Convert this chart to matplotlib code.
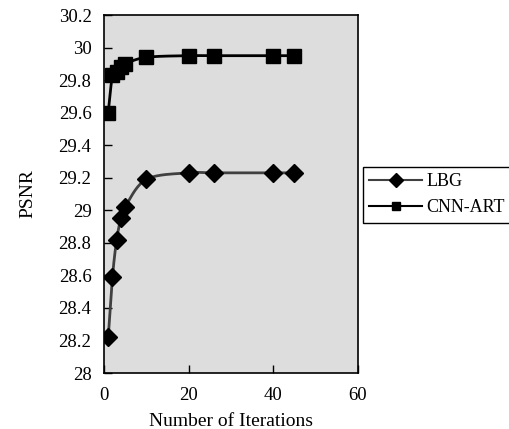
import numpy as np
import matplotlib.pyplot as plt

plt.rcParams['font.family'] = ['Liberation Serif', 'DejaVu Serif']

# donnees
iters = [1, 2, 3, 4, 5, 10, 20, 26, 40, 45]
psnr_lbg = [28.22, 28.59, 28.82, 28.95, 29.02, 29.19, 29.23, 29.23, 29.23, 29.23]
psnr_cnn = [29.60, 29.83, 29.85, 29.88, 29.90, 29.94, 29.95, 29.95, 29.95, 29.95]


def lisse(x, y, n=20):
    """courbe lissee type Excel (Catmull-Rom) pour le trace seulement"""
    x = np.asarray(x, float)
    y = np.asarray(y, float)
    px = np.concatenate([[x[0]], x, [x[-1]]])
    py = np.concatenate([[y[0]], y, [y[-1]]])
    xs, ys = [], []
    t = np.linspace(0, 1, n)
    for i in range(1, len(px) - 2):
        p0, p1, p2, p3 = px[i-1], px[i], px[i+1], px[i+2]
        q0, q1, q2, q3 = py[i-1], py[i], py[i+1], py[i+2]
        b1x, b1y = p1 + (p2 - p0) / 6, q1 + (q2 - q0) / 6
        b2x, b2y = p2 - (p3 - p1) / 6, q2 - (q3 - q1) / 6
        xs.append((1-t)**3*p1 + 3*(1-t)**2*t*b1x + 3*(1-t)*t**2*b2x + t**3*p2)
        ys.append((1-t)**3*q1 + 3*(1-t)**2*t*b1y + 3*(1-t)*t**2*b2y + t**3*q2)
    return np.concatenate(xs), np.concatenate(ys)


fig = plt.figure(figsize=(5.1, 4.29), dpi=100)
ax = fig.add_axes([104/510, 1-373/429, 254/510, 358/429])
ax.set_facecolor('#dddddd')

xl, yl = lisse(iters, psnr_lbg)
ax.plot(xl, yl, color='#404040', lw=2)
ax.plot(iters, psnr_lbg, ls='none', marker='D', ms=9, color='black')

xc, yc = lisse(iters, psnr_cnn)
ax.plot(xc, yc, color='black', lw=2)
ax.plot(iters, psnr_cnn, ls='none', marker='s', ms=10, color='black')

# poignees pour la legende
h1, = ax.plot([], [], color='#404040', lw=1.5, marker='D', ms=7, mfc='black', mec='black')
h2, = ax.plot([], [], color='black', lw=1.5, marker='s', ms=6)
leg = fig.legend([h1, h2], ['LBG', 'CNN-ART'], loc='upper left',
                 bbox_to_anchor=(363/510, 1-167/429, 1-363/510 + 0.03, 0),
                 mode='expand', fontsize=13,
                 fancybox=False, framealpha=1, edgecolor='black',
                 borderaxespad=0, handlelength=2.9, handletextpad=0.25,
                 borderpad=0.35, labelspacing=0.5)
leg.get_frame().set_linewidth(1)

ax.set_xlim(0, 60)
ax.set_ylim(28, 30.2)
ax.set_xticks([0, 20, 40, 60])
ax.set_yticks(np.arange(28, 30.21, 0.2))
ax.set_yticklabels(['28', '28.2', '28.4', '28.6', '28.8', '29', '29.2',
                    '29.4', '29.6', '29.8', '30', '30.2'])
ax.tick_params(direction='in', labelsize=13.5, length=6, width=1)
ax.tick_params(axis='x', pad=10)
ax.tick_params(axis='y', pad=9)
for s in ax.spines.values():
    s.set_linewidth(1.2)

ax.set_xlabel('Number of Iterations', fontsize=14)
ax.set_ylabel('PSNR', fontsize=14)
ax.xaxis.set_label_coords(0.5, -0.112)
ax.yaxis.set_label_coords(-0.265, 0.5)

fig.savefig('out.png', dpi=100)
